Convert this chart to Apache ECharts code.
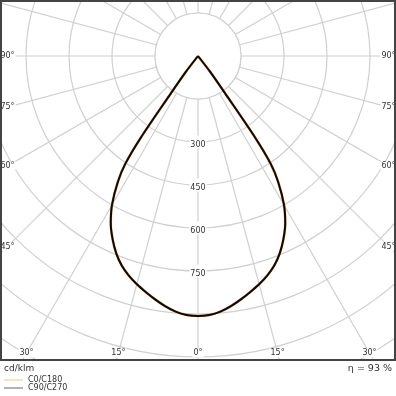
<!DOCTYPE html>
<html><head><meta charset="utf-8">
<script src="https://cdn.jsdelivr.net/npm/echarts@6/dist/echarts.min.js"></script>
<style>html,body{margin:0;padding:0;background:#fff}#c{width:396px;height:396px}</style>
</head><body><div id="c"></div>
<script>
// gamma angle from nadir (degrees), and luminous intensity (cd/klm)
const gammaDeg = [0, 2.5, 5, 7.5, 10, 12.5, 15, 17.5, 20, 22.5, 25, 27.5, 30, 32.5, 34, 35, 36, 37.5, 40, 45, 60, 90, 120, 150, 180];
const c0c180   = [907, 904, 895, 880, 862, 843, 824, 803, 778, 745, 705, 659, 600, 520, 453, 350, 160, 70, 0, 0, 0, 0, 0, 0, 0];
const c90c270  = [907, 904, 895, 880, 862, 843, 824, 803, 778, 745, 705, 659, 600, 520, 453, 350, 160, 70, 0, 0, 0, 0, 0, 0, 0];
const seriesNames = ['C0/C180', 'C90/C270'];
const radiusLabels = [300, 450, 600, 750];
const angleLabels = [0, 15, 30, 45, 60, 75, 90];
const unitText = 'cd/klm';
const efficiencyText = 'η = 93 %';

const FONT = 'DejaVu Sans';
const CX = 198, CY = 56;        // polar centre
const SIDE_HALF = 190.5;         // label inset from centre to side edges
const BOTTOM_DY = 297;           // label inset from centre to bottom edge

function curve(vals) {
  const pts = [];
  for (let i = gammaDeg.length - 1; i >= 0; i--) pts.push([vals[i], gammaDeg[i]]);
  for (let i = 1; i < gammaDeg.length; i++) pts.push([vals[i], 360 - gammaDeg[i]]);
  return pts;
}

const graphics = [
  { type: 'circle', shape: { cx: CX, cy: CY, r: 43 }, style: { fill: '#fff', stroke: '#d0d0d0', lineWidth: 1.2 }, z: 1 },
  { type: 'rect', shape: { x: 0, y: 361, width: 396, height: 35 }, style: { fill: '#fff' }, z: 30 },
  { type: 'rect', shape: { x: 1, y: 1, width: 394, height: 359 }, style: { fill: null, stroke: '#444', lineWidth: 2 }, z: 31 },
  { type: 'text', left: 4, top: 364, style: { text: unitText, font: '9px "DejaVu Sans"', fill: '#333' }, z: 32 },
  { type: 'text', right: 4, top: 364, style: { text: efficiencyText, font: '9.5px "DejaVu Sans"', fill: '#333' }, z: 32 }
];
angleLabels.forEach(a => {
  const sides = a === 0 ? [1] : [-1, 1];
  sides.forEach(s => {
    const rad = a * Math.PI / 180;
    const dx = s * Math.sin(rad), dy = Math.cos(rad);
    let t = Infinity;
    if (Math.abs(dx) > 1e-9) t = Math.min(t, SIDE_HALF / Math.abs(dx));
    if (dy > 1e-9) t = Math.min(t, BOTTOM_DY / dy);
    graphics.push({
      type: 'text', x: CX + dx * t, y: CY + dy * t, z: 20,
      style: { text: a + '°', font: '8px "DejaVu Sans"', fill: '#333', align: 'center', verticalAlign: 'middle',
               backgroundColor: '#fff', padding: [1, 1, 0, 1] }
    });
  });
});

const chart = echarts.init(document.getElementById('c'));
chart.setOption({
  animation: false,
  backgroundColor: '#fff',
  polar: { center: [CX, CY], radius: 430 },
  angleAxis: {
    type: 'value', min: 0, max: 360, interval: 15, startAngle: 270, clockwise: true,
    axisLine: { show: false }, axisTick: { show: false }, axisLabel: { show: false },
    splitLine: { show: true, lineStyle: { color: '#d0d0d0', width: 1.2 } }
  },
  radiusAxis: {
    type: 'value', min: 0, max: 1500, interval: 150,
    axisLine: { show: false }, axisTick: { show: false },
    splitLine: { show: true, lineStyle: { color: '#d0d0d0', width: 1.2 } },
    axisLabel: {
      show: true, margin: 0, align: 'center', verticalAlign: 'middle',
      formatter: v => radiusLabels.includes(v) ? '{b|' + v + '}' : '',
      rich: { b: { fontFamily: FONT, fontSize: 8, color: '#333', backgroundColor: '#fff', padding: [5, 1, 0, 1] } }
    }
  },
  legend: {
    orient: 'vertical', left: 4, top: 376, padding: 0, itemWidth: 19, itemHeight: 1.5, itemGap: 0, icon: 'rect',
    selectedMode: false, z: 32,
    textStyle: { fontFamily: FONT, fontSize: 8, lineHeight: 8, color: '#333' },
    data: [
      { name: seriesNames[0], itemStyle: { color: '#fcd9a8' } },
      { name: seriesNames[1], itemStyle: { color: '#9a9a9a' } }
    ]
  },
  graphic: graphics,
  series: [
    { name: seriesNames[0], type: 'line', coordinateSystem: 'polar', symbol: 'none', z: 5, smooth: 0.3,
      lineStyle: { color: '#e0a765', width: 2.6 }, itemStyle: { color: '#fcd9a8' }, data: curve(c0c180) },
    { name: seriesNames[1], type: 'line', coordinateSystem: 'polar', symbol: 'none', z: 6, smooth: 0.3,
      lineStyle: { color: '#0e0905', width: 2 }, itemStyle: { color: '#9a9a9a' }, data: curve(c90c270) }
  ]
});
</script></body></html>
